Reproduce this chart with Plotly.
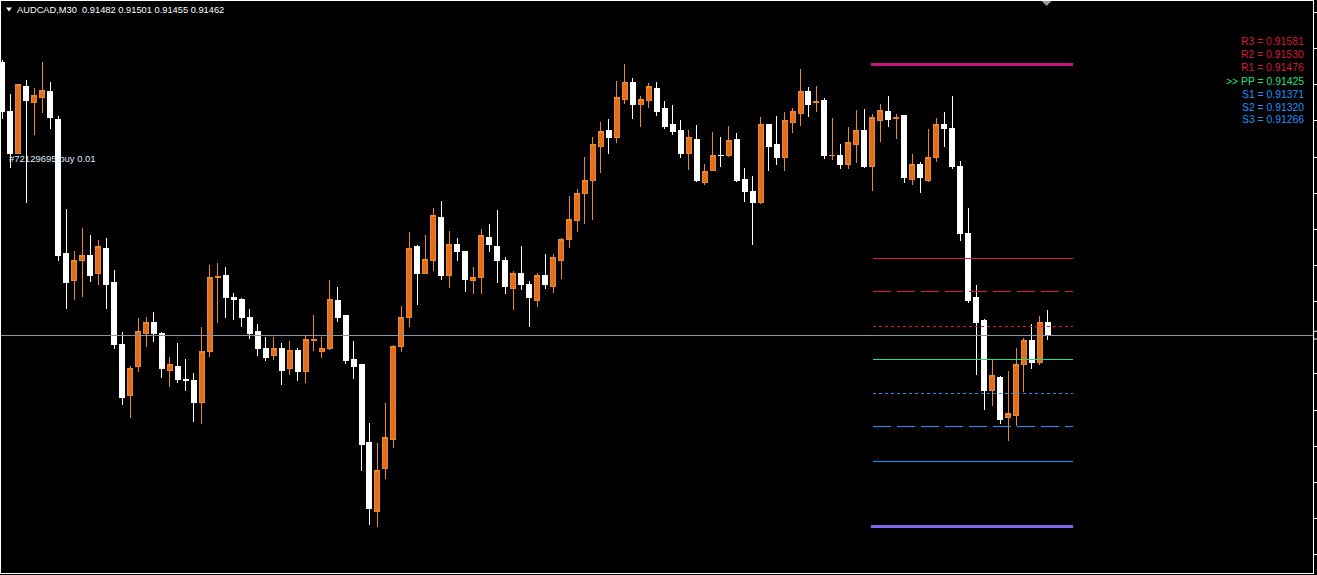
import plotly.graph_objects as go

# ---------------- data ----------------
symbol = "AUDCAD,M30"
last_ohlc = ["0.91482", "0.91501", "0.91455", "0.91462"]

bar_index = list(range(132))

opens = [0.91885, 0.91808, 0.91744, 0.91848, 0.91822, 0.91831, 0.91839, 0.91797, 0.91588, 0.91546,
         0.91577, 0.91585, 0.91558, 0.91597, 0.91543, 0.91447, 0.91368, 0.91413, 0.91464, 0.91481,
         0.91465, 0.91408, 0.91413, 0.91394, 0.91392, 0.91357, 0.91436, 0.91552, 0.91554, 0.91521,
         0.91518, 0.91489, 0.91467, 0.91442, 0.91430, 0.91442, 0.91410, 0.91439, 0.91405, 0.91454,
         0.91436, 0.91441, 0.91515, 0.91493, 0.91424, 0.91416, 0.91295, 0.91189, 0.91255, 0.91301,
         0.91444, 0.91490, 0.91599, 0.91558, 0.91577, 0.91645, 0.91555, 0.91602, 0.91591, 0.91546,
         0.91552, 0.91613, 0.91599, 0.91578, 0.91535, 0.91558, 0.91540, 0.91516, 0.91555, 0.91538,
         0.91577, 0.91610, 0.91639, 0.91682, 0.91702, 0.91754, 0.91780, 0.91769, 0.91828, 0.91853,
         0.91820, 0.91825, 0.91845, 0.91813, 0.91788, 0.91780, 0.91743, 0.91766, 0.91699, 0.91718,
         0.91741, 0.91740, 0.91766, 0.91704, 0.91685, 0.91668, 0.91788, 0.91757, 0.91737, 0.91791,
         0.91806, 0.91839, 0.91823, 0.91826, 0.91740, 0.91741, 0.91726, 0.91758, 0.91780, 0.91723,
         0.91794, 0.91809, 0.91798, 0.91802, 0.91704, 0.91726, 0.91702, 0.91737, 0.91789, 0.91783,
         0.91723, 0.91620, 0.91520, 0.91484, 0.91377, 0.91397, 0.91334, 0.91337, 0.91416, 0.91453,
         0.91420, 0.91482]

highs = [0.91888, 0.91836, 0.91851, 0.91857, 0.91845, 0.91885, 0.91854, 0.91802, 0.91658, 0.91592,
         0.91628, 0.91617, 0.91610, 0.91613, 0.91563, 0.91467, 0.91414, 0.91489, 0.91490, 0.91498,
         0.91467, 0.91428, 0.91450, 0.91425, 0.91403, 0.91475, 0.91571, 0.91574, 0.91568, 0.91527,
         0.91520, 0.91503, 0.91479, 0.91459, 0.91459, 0.91450, 0.91453, 0.91442, 0.91461, 0.91493,
         0.91459, 0.91547, 0.91537, 0.91494, 0.91453, 0.91418, 0.91326, 0.91295, 0.91357, 0.91447,
         0.91507, 0.91622, 0.91602, 0.91617, 0.91659, 0.91670, 0.91623, 0.91613, 0.91592, 0.91568,
         0.91627, 0.91634, 0.91656, 0.91583, 0.91561, 0.91600, 0.91546, 0.91558, 0.91588, 0.91588,
         0.91613, 0.91678, 0.91689, 0.91738, 0.91769, 0.91792, 0.91797, 0.91856, 0.91882, 0.91861,
         0.91833, 0.91853, 0.91854, 0.91825, 0.91819, 0.91796, 0.91780, 0.91788, 0.91727, 0.91777,
         0.91769, 0.91786, 0.91775, 0.91721, 0.91709, 0.91800, 0.91790, 0.91802, 0.91808, 0.91814,
         0.91875, 0.91847, 0.91848, 0.91830, 0.91799, 0.91758, 0.91785, 0.91811, 0.91813, 0.91805,
         0.91820, 0.91833, 0.91805, 0.91803, 0.91743, 0.91730, 0.91782, 0.91799, 0.91808, 0.91833,
         0.91732, 0.91659, 0.91540, 0.91487, 0.91425, 0.91399, 0.91406, 0.91442, 0.91458, 0.91479,
         0.91492, 0.91501]

lows = [0.91797, 0.91721, 0.91743, 0.91667, 0.91772, 0.91806, 0.91782, 0.91577, 0.91503, 0.91516,
        0.91521, 0.91544, 0.91540, 0.91503, 0.91441, 0.91354, 0.91334, 0.91405, 0.91444, 0.91451,
        0.91396, 0.91382, 0.91388, 0.91375, 0.91327, 0.91324, 0.91428, 0.91481, 0.91489, 0.91486,
        0.91475, 0.91456, 0.91430, 0.91422, 0.91424, 0.91385, 0.91400, 0.91391, 0.91388, 0.91437,
        0.91427, 0.91439, 0.91482, 0.91417, 0.91394, 0.91251, 0.91168, 0.91165, 0.91239, 0.91287,
        0.91436, 0.91475, 0.91509, 0.91557, 0.91561, 0.91548, 0.91535, 0.91577, 0.91529, 0.91526,
        0.91526, 0.91591, 0.91543, 0.91526, 0.91501, 0.91532, 0.91475, 0.91506, 0.91534, 0.91527,
        0.91549, 0.91597, 0.91622, 0.91634, 0.91640, 0.91713, 0.91743, 0.91760, 0.91820, 0.91797,
        0.91785, 0.91814, 0.91802, 0.91782, 0.91772, 0.91737, 0.91718, 0.91700, 0.91695, 0.91716,
        0.91723, 0.91738, 0.91699, 0.91668, 0.91602, 0.91666, 0.91716, 0.91726, 0.91716, 0.91775,
        0.91786, 0.91800, 0.91808, 0.91735, 0.91733, 0.91720, 0.91720, 0.91729, 0.91721, 0.91685,
        0.91761, 0.91785, 0.91766, 0.91698, 0.91695, 0.91682, 0.91700, 0.91730, 0.91754, 0.91720,
        0.91608, 0.91512, 0.91400, 0.91346, 0.91352, 0.91324, 0.91298, 0.91321, 0.91374, 0.91410,
        0.91416, 0.91455]

closes = [0.91808, 0.91744, 0.91850, 0.91825, 0.91833, 0.91842, 0.91799, 0.91585, 0.91544, 0.91578,
          0.91586, 0.91555, 0.91600, 0.91541, 0.91447, 0.91366, 0.91411, 0.91467, 0.91481, 0.91464,
          0.91410, 0.91416, 0.91394, 0.91391, 0.91358, 0.91437, 0.91551, 0.91553, 0.91520, 0.91517,
          0.91489, 0.91464, 0.91441, 0.91427, 0.91442, 0.91408, 0.91439, 0.91405, 0.91456, 0.91455,
          0.91441, 0.91518, 0.91489, 0.91422, 0.91413, 0.91293, 0.91193, 0.91253, 0.91303, 0.91445,
          0.91490, 0.91596, 0.91558, 0.91580, 0.91647, 0.91555, 0.91602, 0.91591, 0.91548, 0.91551,
          0.91616, 0.91602, 0.91577, 0.91537, 0.91557, 0.91541, 0.91520, 0.91554, 0.91540, 0.91582,
          0.91610, 0.91642, 0.91682, 0.91701, 0.91758, 0.91778, 0.91769, 0.91830, 0.91853, 0.91820,
          0.91828, 0.91847, 0.91809, 0.91786, 0.91778, 0.91744, 0.91768, 0.91701, 0.91715, 0.91741,
          0.91740, 0.91764, 0.91701, 0.91685, 0.91667, 0.91789, 0.91754, 0.91737, 0.91794, 0.91808,
          0.91839, 0.91820, 0.91824, 0.91740, 0.91741, 0.91727, 0.91760, 0.91780, 0.91723, 0.91800,
          0.91811, 0.91797, 0.91799, 0.91706, 0.91727, 0.91706, 0.91738, 0.91788, 0.91782, 0.91723,
          0.91619, 0.91516, 0.91481, 0.91377, 0.91399, 0.91332, 0.91340, 0.91416, 0.91453, 0.91419,
          0.91481, 0.91462]

# pivot levels (label, value)
pivot_names = ["R3", "R2", "R1", "PP", "S1", "S2", "S3"]
pivot_values = [0.91581, 0.91530, 0.91476, 0.91425, 0.91371, 0.91320, 0.91266]
pivot_start_bar = 109.1
pivot_end_bar = 134.1
range_high = 0.91882
range_low = 0.91165

bid_price = 0.91462
order_label = "#72129695 buy 0.01"
order_price = 0.91736

price_tick0 = 0.91402
price_tick_step = 0.00056

# ---------------- styling ----------------
W, H = 1317, 575
ML, MR, MT, MB = 0, 2, 1, 2
plot_w = W - ML - MR
plot_h = H - MT - MB
bar_px = 8.0
x0 = -1.33 / bar_px
x1 = x0 + plot_w / bar_px
y_lo, y_hi = 0.9109335, 0.9197995

UP_FILL = "#DF6E1E"
UP_LINE = "#F08526"
DN = "#FFFFFF"
RED = "#DC143C"
GREEN = "#1EE37A"
BLUE = "#1E90FF"
FONT = "Liberation Sans, Arial, sans-serif"

pivot_colors = [RED, RED, RED, GREEN, BLUE, BLUE, BLUE]
pivot_dash = ["solid", "18px,6px", "3px,3px", "solid", "3px,3px", "18px,6px", "solid"]

fig = go.Figure()

fig.add_trace(go.Candlestick(
    x=bar_index, open=opens, high=highs, low=lows, close=closes,
    increasing=dict(line=dict(color=UP_LINE, width=1), fillcolor=UP_FILL),
    decreasing=dict(line=dict(color=DN, width=1), fillcolor=DN),
    whiskerwidth=0, showlegend=False, hoverinfo="skip",
))

# range high / low thick lines
fig.add_trace(go.Scatter(x=[pivot_start_bar - 0.25, pivot_end_bar + 0.1], y=[range_high, range_high],
                         mode="lines", line=dict(color="#C71585", width=3), showlegend=False, hoverinfo="skip"))
fig.add_trace(go.Scatter(x=[pivot_start_bar - 0.25, pivot_end_bar + 0.1], y=[range_low, range_low],
                         mode="lines", line=dict(color="#7B68EE", width=3), showlegend=False, hoverinfo="skip"))

for name, val, col, dash in zip(pivot_names, pivot_values, pivot_colors, pivot_dash):
    fig.add_trace(go.Scatter(x=[pivot_start_bar, pivot_end_bar], y=[val, val], mode="lines",
                             line=dict(color=col, width=1, dash=dash), showlegend=False, hoverinfo="skip"))

# bid line
fig.add_trace(go.Scatter(x=[x0 - 1, x1 + 1], y=[bid_price, bid_price], mode="lines",
                         line=dict(color="#8A95A3", width=1), showlegend=False, hoverinfo="skip"))

annotations = []
# title
annotations.append(dict(xref="paper", yref="paper", x=14 / plot_w, y=1 - 8.5 / plot_h,
                        text=symbol + "  " + " ".join(last_ohlc), showarrow=False,
                        xanchor="left", yanchor="middle",
                        font=dict(family=FONT, size=9.3, color="#FFFFFF")))
# pivot legend
row_y = 42
for name, val, col in zip(pivot_names, pivot_values, pivot_colors):
    prefix = ">> " if name == "PP" else ""
    annotations.append(dict(xref="paper", yref="paper", x=1308 / plot_w, y=1 - (row_y - MT) / plot_h,
                            text=f"{prefix}{name} = {val:.5f}", showarrow=False,
                            xanchor="right", yanchor="middle",
                            font=dict(family=FONT, size=10.4, color=col)))
    row_y += 13
# order label
annotations.append(dict(xref="paper", yref="y", x=6 / plot_w, y=order_price,
                        text=order_label, showarrow=False, xanchor="left", yanchor="middle",
                        font=dict(family=FONT, size=9.5, color="#DCEBFA")))

shapes = [
    # title triangle
    dict(type="path", xref="paper", yref="paper",
         path=f"M {5/plot_w},{1-6.5/plot_h} L {11/plot_w},{1-6.5/plot_h} L {8/plot_w},{1-10.5/plot_h} Z",
         fillcolor="#FFFFFF", line=dict(width=0)),
    # chart shift marker
    dict(type="path", xref="paper", yref="paper",
         path=f"M {1043/plot_w},1 L {1053/plot_w},1 L {1048/plot_w},{1-5/plot_h} Z",
         fillcolor="#9A9A9A", line=dict(width=0)),
    # bid label box at the axis
    dict(type="rect", xref="paper", yref="y", x0=1.0005, x1=1.01,
         y0=bid_price - 0.00006, y1=bid_price + 0.00006,
         line=dict(color="#FFFFFF", width=1), fillcolor="#000000"),
]

fig.update_layout(
    width=W, height=H, autosize=False,
    margin=dict(l=ML, r=MR, t=MT, b=MB, pad=0),
    paper_bgcolor="#000000", plot_bgcolor="#000000",
    boxgap=0.375, boxgroupgap=0,
    showlegend=False,
    annotations=annotations, shapes=shapes,
    xaxis=dict(range=[x0, x1], showgrid=False, zeroline=False, showticklabels=False, ticks="",
               showline=True, mirror=True, linecolor="#FFFFFF", linewidth=1,
               rangeslider=dict(visible=False), fixedrange=True),
    yaxis=dict(range=[y_lo, y_hi], side="right", showgrid=False, zeroline=False, showticklabels=False,
               ticks="outside", ticklen=4, tickwidth=1, tickcolor="#FFFFFF",
               tick0=price_tick0, dtick=price_tick_step,
               showline=True, mirror=True, linecolor="#FFFFFF", linewidth=1, fixedrange=True),
)

crisp_js = """
document.body.style.margin='0';
document.body.style.background='#000';
function crispLines(){
  document.querySelectorAll('.scatterlayer path.js-line, .boxlayer path').forEach(function(p){
    p.setAttribute('shape-rendering','crispEdges');
  });
}
crispLines(); setTimeout(crispLines, 30); setTimeout(crispLines, 200);
"""

fig.write_html("out.html", config={"displayModeBar": False}, post_script=crisp_js)
